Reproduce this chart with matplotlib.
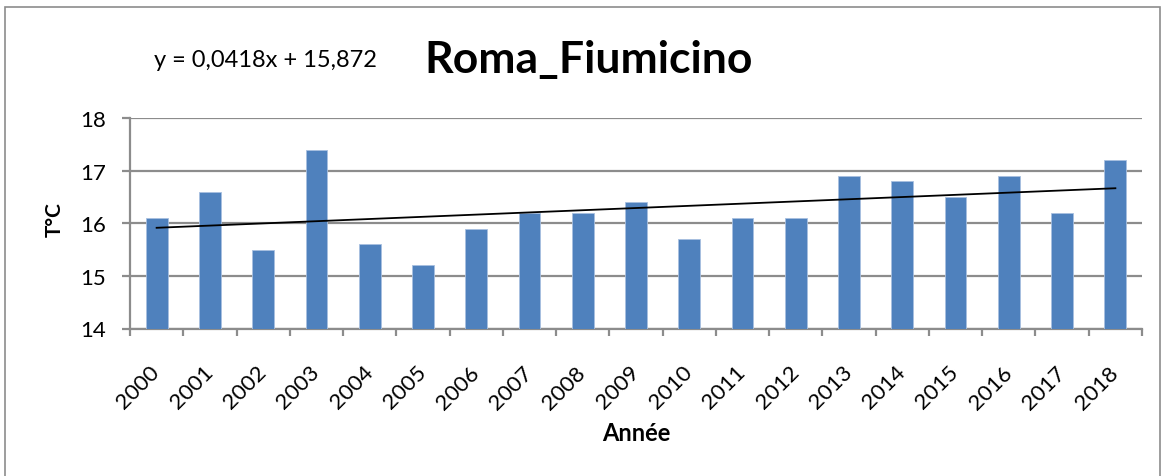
import numpy as np
import matplotlib
matplotlib.use("Agg")
import matplotlib.pyplot as plt
from matplotlib.patches import Rectangle

years = [str(y) for y in range(2000, 2019)]
temps = [16.1, 16.6, 15.5, 17.4, 15.6, 15.2, 15.9, 16.2, 16.2, 16.4,
         15.7, 16.1, 16.1, 16.9, 16.8, 16.5, 16.9, 16.2, 17.2]
y_ticks = [14, 15, 16, 17, 18]
title = "Roma_Fiumicino"
equation = "y = 0,0418x + 15,872"

plt.rcParams["font.family"] = ["Lato", "DejaVu Sans"]

BAR = "#4f81bd"
GRID = "#8c8c8c"

fig = plt.figure(figsize=(11.65, 4.77), dpi=100)
ax = fig.add_axes([130 / 1165, 1 - 329.5 / 477, 1012 / 1165, 210.5 / 477])

x = np.arange(len(years))
ax.bar(x, temps, width=0.41, color=BAR, edgecolor="#a8c0e0", linewidth=0.6, zorder=3)

# linear trend (Excel style, x = 1..n)
xs = x + 1
k, b = np.polyfit(xs, temps, 1)
ax.plot(x, k * xs + b, color="black", linewidth=1.3, zorder=4)

ax.set_xlim(-0.5, len(years) - 0.5)
ax.set_ylim(y_ticks[0], y_ticks[-1])
ax.set_yticks(y_ticks)
ax.yaxis.grid(True, color=GRID, linewidth=1.6, zorder=0)
ax.set_axisbelow(True)

ax.set_xticks(x)
ax.set_xticklabels(years, rotation=45, ha="right", va="center",
                   rotation_mode="anchor", fontsize=16)
ax.tick_params(axis="x", length=0, pad=29)
ax.set_xticks(np.arange(-0.5, len(years)), minor=True)
ax.tick_params(axis="x", which="minor", length=5, width=1.6, color=GRID)
ax.tick_params(axis="y", labelsize=16, length=6, width=1.6, color=GRID, pad=11)

for side in ["top", "right"]:
    ax.spines[side].set_visible(False)
for side in ["left", "bottom"]:
    ax.spines[side].set_color(GRID)
    ax.spines[side].set_linewidth(1.6)

ax.set_xlabel("Année", fontsize=17, fontweight="bold", va="center")
ax.xaxis.set_label_coords(0.5, -(434 - 329.5) / 210.5)
ax.set_ylabel("T°C", fontsize=15, fontweight="bold", va="center")
ax.yaxis.set_label_coords(-(130 - 55) / 1012, 0.52)

fig.text(0.505, 0.874, title, fontsize=32, fontweight="bold", ha="center", va="center")
fig.text(0.2275, 0.874, equation, fontsize=17, ha="center", va="center")

fig.patches.append(Rectangle((5 / 1165, -0.1), 1155 / 1165, 1 - 8 / 477 + 0.1,
                             transform=fig.transFigure, fill=False,
                             edgecolor="#8c8c8c", linewidth=1.2))

fig.savefig("out.png", dpi=100)
